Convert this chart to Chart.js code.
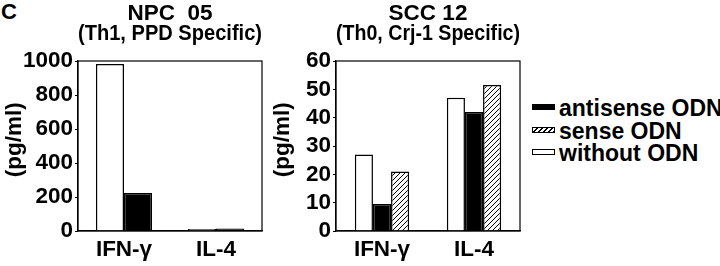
<!DOCTYPE html>
<html>
<head>
<meta charset="utf-8">
<script src="https://cdn.jsdelivr.net/npm/chart.js@4/dist/chart.umd.min.js"></script>
<style>
  body { margin: 0; background: #fff; width: 720px; height: 266px; position: relative; overflow: hidden;
         font-family: "Liberation Sans", Arial, sans-serif; font-weight: bold; }
  #left { position: absolute; left: 0; top: 0; }
  #right { position: absolute; left: 268px; top: 0; }
  #panel { position: absolute; left: 1px; top: 1px; font-size: 22px; line-height: 22px; }
  #legend { position: absolute; left: 532px; top: 97px; font-size: 23px; }
  .row { height: 22.5px; line-height: 22.5px; white-space: nowrap; }
  .box { display: inline-block; width: 21px; height: 4px; border: 1.5px solid #000; margin-right: 4px; vertical-align: 6px; }
</style>
</head>
<body>
<div id="panel">C</div>
<canvas id="left" width="268" height="266"></canvas>
<canvas id="right" width="262" height="266"></canvas>
<div id="legend"></div>
<script>
const categories = ["IFN-γ", "IL-4"];

// NPC 05 (Th1, PPD specific), pg/ml
const npcWithout = [982, 12];
const npcAntisense = [224, 14];

// SCC 12 (Th0, Crj-1 specific), pg/ml
const sccWithout = [27, 47];
const sccAntisense = [9.5, 42];
const sccSense = [21, 51.5];

const npcTicks = [0, 200, 400, 600, 800, 1000];
const sccTicks = [0, 10, 20, 30, 40, 50, 60];

const legendLabels = ["antisense ODN", "sense ODN", "without ODN"];

const FONT = "'Liberation Sans', Arial, sans-serif";
const SIZE = 22.5;

function hatch() {
    const c = document.createElement("canvas");
    c.width = 5; c.height = 5;
    const g = c.getContext("2d");
    g.fillStyle = "#fff";
    g.fillRect(0, 0, 5, 5);
    g.strokeStyle = "#000";
    g.lineWidth = 1;
    g.beginPath();
    g.moveTo(-1, 6); g.lineTo(6, -1);
    g.moveTo(-1, 1); g.lineTo(1, -1);
    g.moveTo(4, 6); g.lineTo(6, 4);
    g.stroke();
    return g.createPattern(c, "repeat");
}
const hatchFill = hatch();

// draw a full frame round the plot area
const frame = {
    id: "frame",
    afterDraw(chart) {
        const a = chart.chartArea, ctx = chart.ctx;
        ctx.save();
        ctx.strokeStyle = "#000";
        ctx.lineWidth = 1.2;
        ctx.strokeRect(a.left, a.top, a.right - a.left, a.bottom - a.top);
        ctx.restore();
    }
};

function bar(label, data, fill) {
    return { label: label, data: data, backgroundColor: fill, borderColor: "#000", borderWidth: 1.5 };
}

function makeChart(id, title, datasets, ticks, max, yWidth, padRight, catPct) {
    return new Chart(document.getElementById(id), {
        type: "bar",
        data: { labels: categories, datasets: datasets },
        plugins: [frame],
        options: {
            responsive: false,
            animation: false,
            layout: { padding: { left: 0, right: padRight, top: 0, bottom: 0 } },
            datasets: { bar: { categoryPercentage: catPct, barPercentage: 1 } },
            plugins: {
                legend: { display: false },
                tooltip: { enabled: false },
                title: {
                    display: true, text: title, fullSize: false, color: "#000",
                    font: { family: FONT, size: SIZE, weight: "bold", lineHeight: 0.92 },
                    padding: { top: 3, bottom: 16.6 }
                }
            },
            scales: {
                x: {
                    grid: { display: false, drawTicks: false },
                    border: { display: true, color: "#000", width: 1.2 },
                    ticks: { color: "#000", padding: 5, font: { family: FONT, size: SIZE, weight: "bold" } },
                    afterFit(s) { s.height = 35; }
                },
                y: {
                    min: 0, max: max,
                    afterBuildTicks(s) { s.ticks = ticks.map(v => ({ value: v })); },
                    grid: { display: true, drawOnChartArea: false, drawTicks: true, tickLength: 3, color: "#000" },
                    border: { display: true, color: "#000", width: 1.2 },
                    ticks: { color: "#000", padding: 2, autoSkip: false, font: { family: FONT, size: SIZE, weight: "bold" },
                             callback: v => String(v) },
                    title: {
                        display: true, text: "  (pg/ml)", color: "#000",
                        font: { family: FONT, size: SIZE, weight: "bold" },
                        padding: { top: 1, bottom: 0 }
                    },
                    afterFit(s) { s.width = yWidth; }
                }
            }
        }
    });
}

makeChart("left", ["NPC  05", "(Th1, PPD Specific)"], [
    bar("without ODN", npcWithout, "#fff"),
    bar("antisense ODN", npcAntisense, "#000")
], npcTicks, 1000, 78, 6, 0.61);

makeChart("right", ["SCC 12", "(Th0, Crj-1 Specific)"], [
    bar("without ODN", sccWithout, "#fff"),
    bar("antisense ODN", sccAntisense, "#000"),
    bar("sense ODN", sccSense, hatchFill)
], sccTicks, 60, 68, 10, 0.59);

// legend fills: antisense, sense, without
const legendFills = ["background:#000", "background:repeating-linear-gradient(-45deg,#000 0 1px,#fff 1px 3.5px)", "background:#fff"];
document.getElementById("legend").innerHTML = legendLabels.map((t, i) =>
    '<div class="row"><span class="box" style="' + legendFills[i] + '"></span>' + t + '</div>').join("");
</script>
</body>
</html>
